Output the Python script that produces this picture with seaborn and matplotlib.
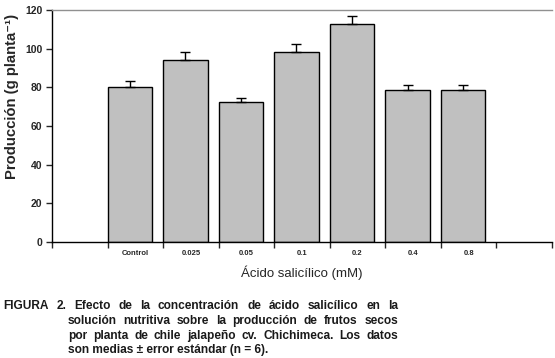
import matplotlib.pyplot as plt
from matplotlib.ticker import FixedLocator
import pandas as pd
import seaborn as sns

# values (g per plant)
categories = ['Control', '0.025', '0.05', '0.1', '0.2', '0.4', '0.8']
produccion = [80.3, 94.0, 72.3, 98.1, 112.6, 78.5, 78.5]
error_std = [2.8, 4.1, 2.4, 4.1, 4.1, 2.9, 2.9]
y_ticks = [0, 20, 40, 60, 80, 100, 120]

caption_lines = [
    'FIGURA 2. Efecto de la concentración de ácido salicílico en la',
    'solución nutritiva sobre la producción de frutos secos',
    'por planta de chile jalapeño cv. Chichimeca. Los datos',
    'son medias ± error estándar (n = 6).',
]

sns.set_style("ticks")
plt.rcParams['font.family'] = ['Liberation Sans', 'DejaVu Sans']

df = pd.DataFrame({'dosis': categories, 'produccion': produccion, 'err': error_std})
# empty slots at both ends, like the original spreadsheet chart
order = [' '] + categories + ['  ']

W, H = 555, 358
fig = plt.figure(figsize=(W / 100, H / 100), dpi=100)
ax = fig.add_axes([52 / W, 1 - 242 / H, 500 / W, 232 / H])

sns.barplot(data=df, x='dosis', y='produccion', order=order, color='#C0C0C0',
            saturation=1, edgecolor='black', linewidth=1, width=0.8,
            errorbar=None, ax=ax)

# bars sit at the left edge of each slot in the original
shift = -0.1
for patch in ax.patches:
    patch.set_x(patch.get_x() + shift)

pos = [order.index(c) + shift for c in categories]
ax.errorbar(pos, df['produccion'], yerr=[[0] * len(df), df['err']], fmt='none',
            ecolor='black', elinewidth=1, capsize=3.5, capthick=1, zorder=5)

ax.set_xlim(-0.5, len(order) - 0.5)
ax.set_ylim(0, 120)
ax.set_yticks(y_ticks)
ax.set_yticklabels([str(v) for v in y_ticks], fontsize=7.5, fontweight='bold')
ax.set_xticks(range(len(order)))
ax.set_xticklabels(order, fontsize=5.5, fontweight='bold')
ax.xaxis.set_minor_locator(FixedLocator([i - 0.5 for i in range(len(order) + 1)]))
ax.tick_params(axis='x', which='major', length=0, pad=6)
ax.tick_params(axis='x', which='minor', length=4, width=1, direction='out')
ax.tick_params(axis='y', length=4, width=1, direction='out', pad=3)

ax.set_xlabel('Ácido salicílico (mM)', fontsize=9.5, labelpad=6)
ax.set_ylabel('')

for side in ['left', 'bottom']:
    ax.spines[side].set_color('black')
    ax.spines[side].set_linewidth(1)
ax.spines['top'].set_color('#909090')
ax.spines['top'].set_linewidth(1)
ax.spines['right'].set_visible(False)

renderer = fig.canvas.get_renderer()

# y label: size it so it spans about the same height as in the original
ylabel_text = 'Producción (g planta⁻¹)'
probe = fig.text(0.5, 0.5, ylabel_text, rotation=90, fontsize=9, fontweight='bold')
span = probe.get_window_extent(renderer).height
probe.remove()
fig.text(12 / W, 1 - 96 / H, ylabel_text, rotation=90, fontsize=9 * 166 / span,
         fontweight='bold', ha='center', va='center')

# caption, justified like the journal layout (last line left aligned)
cap_kw = dict(fontsize=8.6, fontweight='bold', color='#1a1a1a', va='center', ha='left')
right_px = 398
line_y = [306, 321, 336, 350.5]
for i, line in enumerate(caption_lines):
    left_px = 3 if i == 0 else 68
    y = 1 - line_y[i] / H
    if i == len(caption_lines) - 1:
        fig.text(left_px / W, y, line, **cap_kw)
        continue
    words = line.split(' ')
    texts = [fig.text(0, y, w, **cap_kw) for w in words]
    widths = [t.get_window_extent(renderer).width for t in texts]
    gap = (right_px - left_px - sum(widths)) / (len(words) - 1)
    x = left_px
    for t, w in zip(texts, widths):
        t.set_x(x / W)
        x += w + gap

fig.savefig('out.png', dpi=100)
